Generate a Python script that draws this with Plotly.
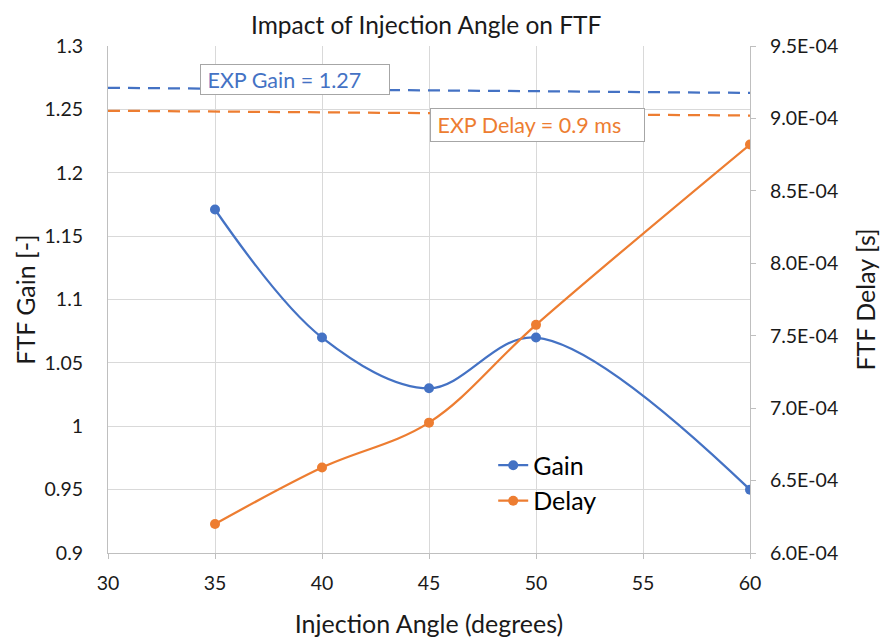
import plotly.graph_objects as go

# Data
angles = [35, 40, 45, 50, 60]
gain = [1.171, 1.07, 1.03, 1.07, 0.95]
delay = [6.20e-4, 6.59e-4, 6.90e-4, 7.575e-4, 8.82e-4]

exp_x = [30, 60]
exp_gain = [1.267, 1.263]
exp_delay = [9.053e-4, 9.02e-4]

x_ticks = [30, 35, 40, 45, 50, 55, 60]
left_ticks = [0.9, 0.95, 1.0, 1.05, 1.1, 1.15, 1.2, 1.25, 1.3]
left_labels = ["0.9", "0.95", "1", "1.05", "1.1", "1.15", "1.2", "1.25", "1.3"]
right_ticks = [6.0e-4, 6.5e-4, 7.0e-4, 7.5e-4, 8.0e-4, 8.5e-4, 9.0e-4, 9.5e-4]
right_labels = ["6.0E-04", "6.5E-04", "7.0E-04", "7.5E-04", "8.0E-04", "8.5E-04", "9.0E-04", "9.5E-04"]

BLUE = "#4472C4"
ORANGE = "#ED7D31"
GRID = "#D9D9D9"
AXIS = "#BFBFBF"
FONT = "Lato"
TXT = "#1a1a1a"

fig = go.Figure()

fig.add_trace(go.Scatter(x=exp_x, y=exp_gain, mode="lines", showlegend=False,
                         line=dict(color=BLUE, width=2.25, dash="12px,8px"), hoverinfo="skip"))
fig.add_trace(go.Scatter(x=exp_x, y=exp_delay, mode="lines", showlegend=False, yaxis="y2",
                         line=dict(color=ORANGE, width=2.25, dash="12px,8px"), hoverinfo="skip"))

fig.add_trace(go.Scatter(x=angles, y=gain, name="Gain", mode="lines+markers",
                         line=dict(color=BLUE, width=2.25, shape="spline", smoothing=1.0),
                         marker=dict(color=BLUE, size=10)))
fig.add_trace(go.Scatter(x=angles, y=delay, name="Delay", mode="lines+markers", yaxis="y2",
                         line=dict(color=ORANGE, width=2.25, shape="spline", smoothing=1.0),
                         marker=dict(color=ORANGE, size=10)))

fig.update_layout(
    width=888, height=641,
    margin=dict(l=100, r=146, t=38, b=96),
    paper_bgcolor="white", plot_bgcolor="white",
    font=dict(family=FONT, size=19, color=TXT),
    xaxis=dict(range=[30, 60], tickvals=x_ticks, showgrid=True, gridcolor=GRID, gridwidth=1,
               showline=True, linecolor=AXIS, linewidth=1, ticks="outside", ticklen=5,
               tickcolor=AXIS, zeroline=False, ticklabelstandoff=8,
               title=dict(text="Injection Angle (degrees)", font=dict(size=25), standoff=22),
               tickfont=dict(size=19.5)),
    yaxis=dict(range=[0.9, 1.3], tickvals=left_ticks, ticktext=left_labels, showgrid=True,
               gridcolor=GRID, gridwidth=1, showline=True, linecolor=AXIS, linewidth=1,
               ticks="", zeroline=False, ticklabelstandoff=20,
               title=dict(text="FTF Gain [-]", font=dict(size=25), standoff=1),
               tickfont=dict(size=19.5)),
    yaxis2=dict(range=[6.0e-4, 9.5e-4], tickvals=right_ticks, ticktext=right_labels,
                overlaying="y", side="right", showgrid=False, showline=True, linecolor=AXIS,
                linewidth=1, ticks="outside", ticklen=5, tickcolor=AXIS, zeroline=False,
                ticklabelstandoff=10,
                title=dict(text="FTF Delay [s]", font=dict(size=25), standoff=20),
                tickfont=dict(size=19.5)),
    legend=dict(x=0.6, y=0.218, xanchor="left", yanchor="top", bgcolor="rgba(0,0,0,0)",
                font=dict(size=25, color="#000000"), itemwidth=30),
    showlegend=True,
)

# Chart title as a paper-anchored annotation
fig.add_annotation(x=0.496, y=1.0, xref="paper", yref="paper", yshift=22,
                   text="Impact of Injection Angle on FTF", showarrow=False,
                   font=dict(size=24.5, color=TXT), xanchor="center", yanchor="middle")

fig.add_annotation(x=38.74, y=1.2732, xref="x", yref="y", text="\u00a0EXP Gain = 1.27",
                   showarrow=False, font=dict(size=21.5, color=BLUE), bgcolor="white",
                   bordercolor="#A6A6A6", borderwidth=1, width=186, height=27, borderpad=1,
                   xanchor="center", yanchor="middle", align="left")
fig.add_annotation(x=50.07, y=1.2373, xref="x", yref="y", text="\u00a0EXP Delay = 0.9 ms",
                   showarrow=False, font=dict(size=21.5, color=ORANGE), bgcolor="white",
                   bordercolor="#A6A6A6", borderwidth=1, width=211, height=30, borderpad=1,
                   xanchor="center", yanchor="middle", align="left")

fig.write_html("out.html")
